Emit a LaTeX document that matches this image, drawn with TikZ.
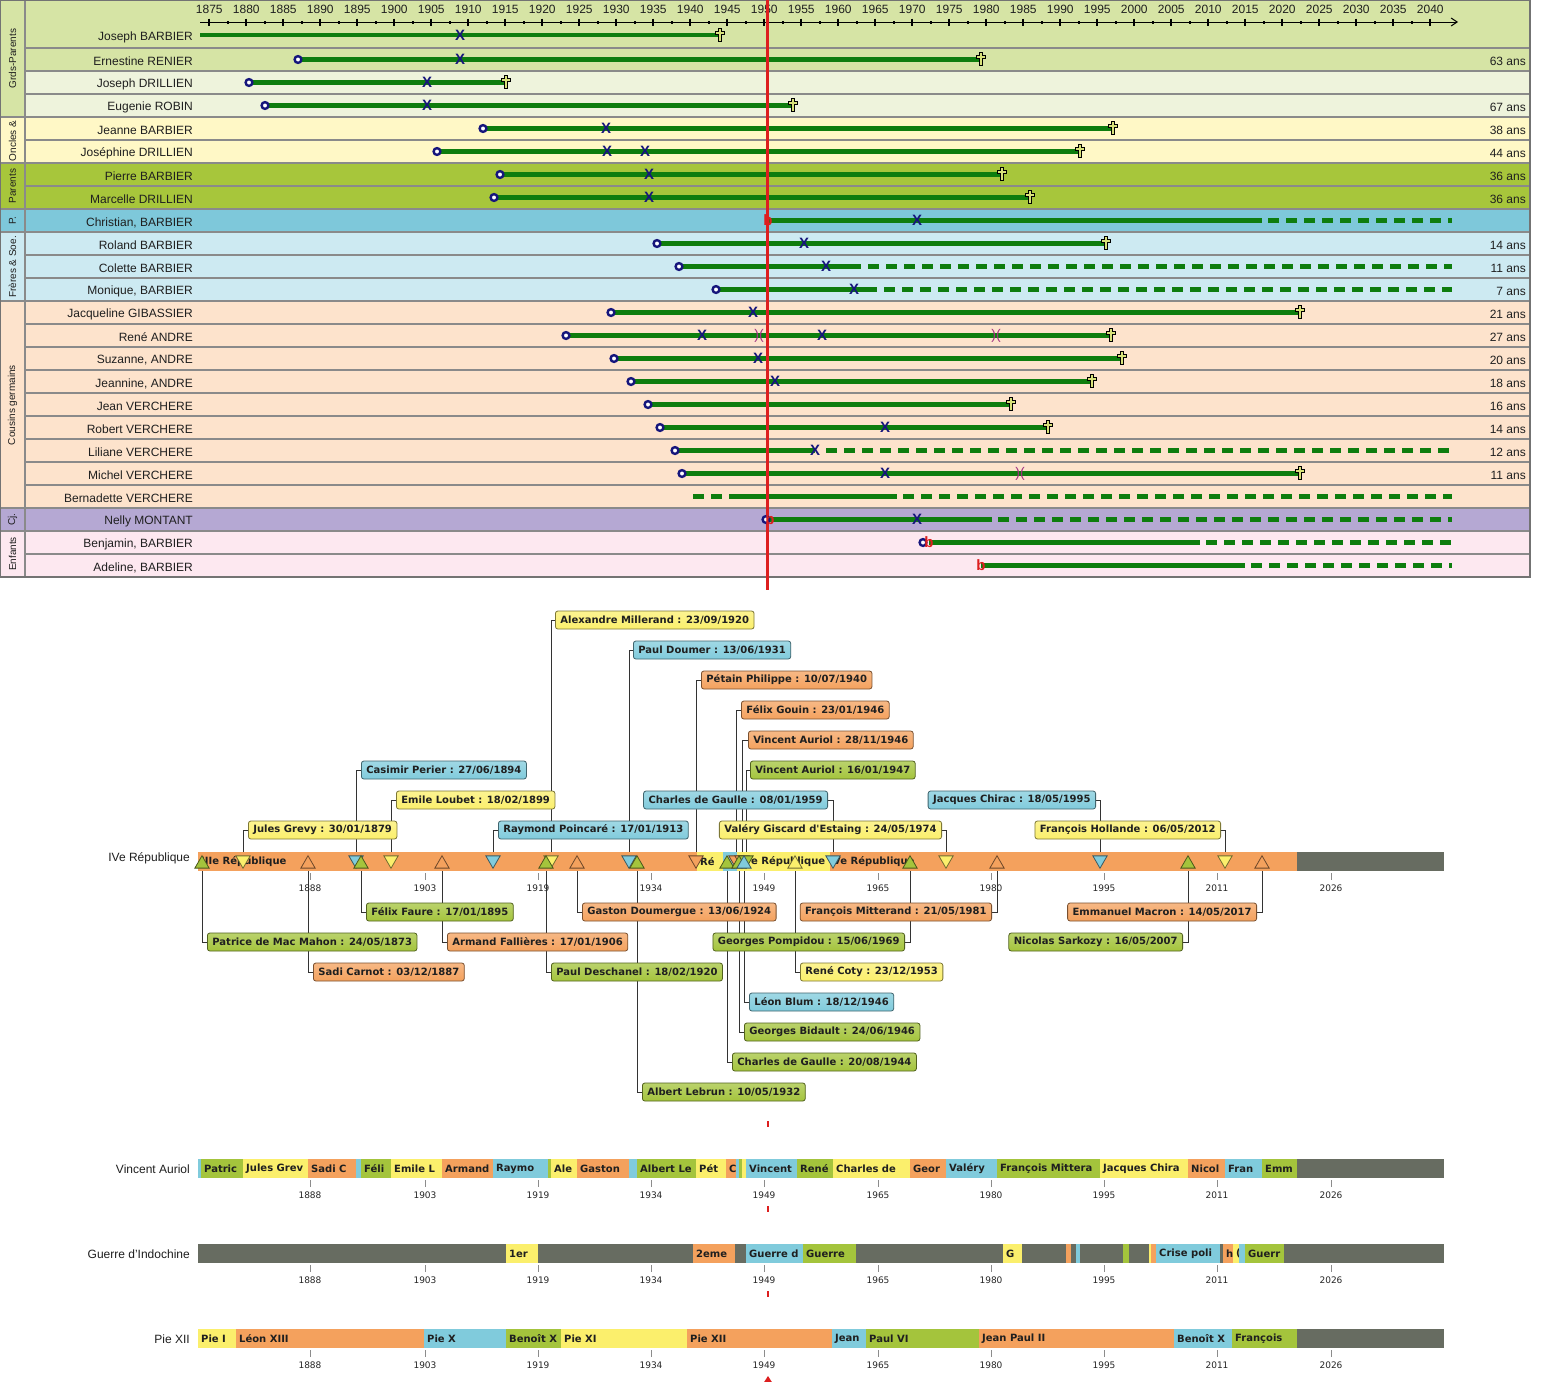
\documentclass[tikz,border=0pt]{standalone}
\usepackage{fontspec}
\setmainfont{Liberation Sans}
\newfontfamily\boxfont{DejaVu Sans}
\usetikzlibrary{shapes.geometric,arrows.meta}
\pgfdeclarelayer{back}
\pgfsetlayers{back,main}
\definecolor{rowGP}{HTML}{D6E4A5}
\definecolor{rowGPb}{HTML}{EEF3DC}
\definecolor{rowOU}{HTML}{FFF8C6}
\definecolor{rowPA}{HTML}{A7C63B}
\definecolor{rowP}{HTML}{7EC8DA}
\definecolor{rowFS}{HTML}{CDEAF2}
\definecolor{rowCG}{HTML}{FDE3CC}
\definecolor{rowCJ}{HTML}{B5A8D3}
\definecolor{rowEN}{HTML}{FDE8F0}
\definecolor{sepgray}{HTML}{8A8A8A}
\definecolor{lifegreen}{HTML}{0E7D0E}
\definecolor{mknavy}{HTML}{16167C}
\definecolor{redline}{HTML}{DD1F1F}
\definecolor{cgreen}{HTML}{A4C43C}
\definecolor{cyellow}{HTML}{FBEF6C}
\definecolor{corange}{HTML}{F4A15D}
\definecolor{cblue}{HTML}{80CBDC}
\definecolor{cgray}{HTML}{676C61}
\definecolor{divpurple}{HTML}{A0307F}
\definecolor{crossfill}{HTML}{D8E27A}
\newcounter{mk}
\tikzset{
  sepln/.style={draw=sepgray, line width=2pt},
  borderln/.style={draw=black!55, line width=1.2pt},
  life/.style={draw=lifegreen, line width=4.3pt},
  lifedash/.style={draw=lifegreen, line width=4.3pt, dash pattern=on 11pt off 7pt},
  bornmk/.style={draw=mknavy, line width=2.4pt, fill=white},
  wedmk/.style={text=mknavy, inner sep=0pt, font=\fontsize{15}{15}\selectfont\bfseries},
  sepmk/.style={text=divpurple, inner sep=0pt, font=\fontsize{14}{14}\selectfont},
  rbmk/.style={text=redline, inner sep=0pt, font=\fontsize{15}{15}\selectfont\bfseries},
  diesmk/.style={draw=black, fill=crossfill, line width=0.9pt},
  namelbl/.style={anchor=east, inner sep=0pt, font=\fontsize{12}{14}\selectfont, text=black!88},
  anslbl/.style={anchor=east, inner sep=0pt, font=\fontsize{12}{14}\selectfont, text=black!88},
  grplbl/.style={rotate=90, inner sep=0pt, font=\fontsize{10}{12}\selectfont, text=black!88},
  yrlbl/.style={inner sep=0pt, font=\fontsize{12}{14}\selectfont, text=black!88},
  yrsmall/.style={inner sep=0pt, font=\boxfont\fontsize{9}{11}\selectfont, text=black!85},
  tickgray/.style={draw=black!45, line width=0.8pt},
  bandlbl/.style={anchor=east, inner sep=0pt, font=\fontsize{12}{14}\selectfont, text=black!88},
  segtxt/.style={anchor=west, inner sep=0pt, font=\boxfont\bfseries\fontsize{10}{12}\selectfont, text=black!88},
  pbox/.style={rounded corners=2.5pt, draw=#1!50!black, top color=#1!75!white, bottom color=#1, line width=0.8pt,
    minimum height=18pt, inner xsep=5pt, inner ysep=0pt,
    font=\boxfont\bfseries\fontsize{10}{12}\selectfont, text=black!88},
  tridown/.style={regular polygon, regular polygon sides=3, shape border rotate=180,
    minimum size=16.5pt, inner sep=0pt, draw=#1!45!black, fill=#1, line width=0.8pt},
  triup/.style={regular polygon, regular polygon sides=3,
    minimum size=16.5pt, inner sep=0pt, draw=#1!45!black, fill=#1, line width=0.8pt},
  conn/.style={draw=black!80, line width=0.8pt},
}
\newcommand\mkLife[3]{\draw[life] (#1,#3) -- (#2,#3);}
\newcommand\mkLifeD[3]{\draw[lifedash] (#1,#3) -- (#2,#3);}
\newcommand\mkBorn[2]{\draw[bornmk] (#1,#2) circle[radius=3.4];}
\newcommand\mkWed[2]{\stepcounter{mk}\node[wedmk] (mk\arabic{mk}) at (#1,#2) {X};}
\newcommand\mkSep[2]{\stepcounter{mk}\node[sepmk] (mk\arabic{mk}) at (#1,#2) {)(};}
\newcommand\mkRb[2]{\stepcounter{mk}\node[rbmk] (mk\arabic{mk}) at (#1,#2) {b};}
\newcommand\mkDie[2]{\draw[diesmk,shift={(#1,#2)}] (-1.6,-7) -- (1.6,-7) -- (1.6,-3.8) -- (4.8,-3.8) -- (4.8,-0.6) -- (1.6,-0.6) -- (1.6,6.2) -- (-1.6,6.2) -- (-1.6,-0.6) -- (-4.8,-0.6) -- (-4.8,-3.8) -- (-1.6,-3.8) -- cycle;}
\newcommand\segm[6]{%
  \fill[#5] (#2,#4) rectangle (#3,#4+19);
  \begin{scope}
    \clip (#2,#4) rectangle (#3,#4+19);
    \node[segtxt] (#1) at (#2+3,#4+9.5) {#6};
  \end{scope}}
\newcommand\bandaxis[2]{%
  \foreach \xx/\yy in {310/1888,425/1903,538/1919,651/1934,764/1949,878/1965,991/1980,1104/1995,1217/2011,1331/2026} {
    \draw[tickgray] (\xx,#2+2) -- (\xx,#2+9);
    \node[yrsmall] (#1-\yy) at (\xx,#2+17) {\yy};}}
\begin{document}
\begin{tikzpicture}[x=1pt,y=-1pt]
\useasboundingbox (0,0) rectangle (1543,1382);
\begin{pgfonlayer}{back}
\fill[white] (0,0) rectangle (1543,1382);
\end{pgfonlayer}
% ================= TOP SECTION =================
\fill[rowGP] (0,0) rectangle (1530,117);
\fill[rowGPb] (25,71) rectangle (1530,117);
\fill[rowOU] (0,117) rectangle (1530,163);
\fill[rowPA] (0,163) rectangle (1530,209);
\fill[rowP] (0,209) rectangle (1530,232);
\fill[rowFS] (0,232) rectangle (1530,301);
\fill[rowCG] (0,301) rectangle (1530,508);
\fill[rowCJ] (0,508) rectangle (1530,531);
\fill[rowEN] (0,531) rectangle (1530,577);
\foreach \yy in {48,71,94,140,186,255,278,324,347,370,393,416,439,462,485,554}
  \draw[sepln] (25,\yy) -- (1530,\yy);
\foreach \yy in {117,163,209,232,301,508,531}
  \draw[sepln] (0,\yy) -- (1530,\yy);
\draw[sepln] (25,0) -- (25,577);
\draw[borderln] (0,0) rectangle (1530,577);
% group labels
\node[grplbl] (g1) at (12.5,58.5) {Grds-Parents};
\node[grplbl] (g2) at (12.5,141) {Oncles \&};
\node[grplbl] (g3) at (12.5,186) {Parents};
\node[grplbl] (g4) at (12.5,220.5) {P.};
\node[grplbl] (g5) at (12.5,267) {Frères \& Soe.};
\node[grplbl] (g6) at (12.5,405) {Cousins germains};
\node[grplbl] (g7) at (12.5,519.5) {Cj.};
\node[grplbl] (g8) at (12.5,554) {Enfants};
% axis
\draw[line width=1pt, -{Straight Barb[length=6pt,width=8pt]}] (200,22) -- (1458,22);
\foreach \k in {0,...,33} {
  \pgfmathsetmacro\xx{209.3+37*\k}
  \pgfmathtruncatemacro\yy{1875+5*\k}
  \draw[line width=2pt] (\xx,18.5) -- (\xx,25.5);
  \node[yrlbl] (ax\k) at (\xx,9.5) {\yy};}
\foreach \k in {0,...,32} {
  \pgfmathsetmacro\xx{209.3+37*\k+18.5}
  \fill (\xx-1.2,20.8) rectangle (\xx+1.2,23.6);}
% names
\node[namelbl] (nm1) at (193,37) {Joseph BARBIER};
\node[namelbl] (nm2) at (193,61.5) {Ernestine RENIER};
\node[namelbl] (nm3) at (193,84.5) {Joseph DRILLIEN};
\node[namelbl] (nm4) at (193,107.5) {Eugenie ROBIN};
\node[namelbl] (nm5) at (193,130.5) {Jeanne BARBIER};
\node[namelbl] (nm6) at (193,153.5) {Joséphine DRILLIEN};
\node[namelbl] (nm7) at (193,176.5) {Pierre BARBIER};
\node[namelbl] (nm8) at (193,199.5) {Marcelle DRILLIEN};
\node[namelbl] (nm9) at (193,222.5) {Christian, BARBIER};
\node[namelbl] (nm10) at (193,245.5) {Roland BARBIER};
\node[namelbl] (nm11) at (193,268.5) {Colette BARBIER};
\node[namelbl] (nm12) at (193,291.5) {Monique, BARBIER};
\node[namelbl] (nm13) at (193,314.5) {Jacqueline GIBASSIER};
\node[namelbl] (nm14) at (193,337.5) {René ANDRE};
\node[namelbl] (nm15) at (193,360.5) {Suzanne, ANDRE};
\node[namelbl] (nm16) at (193,383.5) {Jeannine, ANDRE};
\node[namelbl] (nm17) at (193,406.5) {Jean VERCHERE};
\node[namelbl] (nm18) at (193,429.5) {Robert VERCHERE};
\node[namelbl] (nm19) at (193,452.5) {Liliane VERCHERE};
\node[namelbl] (nm20) at (193,475.5) {Michel VERCHERE};
\node[namelbl] (nm21) at (193,498.5) {Bernadette VERCHERE};
\node[namelbl] (nm22) at (193,521.5) {Nelly MONTANT};
\node[namelbl] (nm23) at (193,544.5) {Benjamin, BARBIER};
\node[namelbl] (nm24) at (193,567.5) {Adeline, BARBIER};
% ages
\node[anslbl] (an2) at (1526,61.5) {63 ans};
\node[anslbl] (an4) at (1526,107.5) {67 ans};
\node[anslbl] (an5) at (1526,130.5) {38 ans};
\node[anslbl] (an6) at (1526,153.5) {44 ans};
\node[anslbl] (an7) at (1526,176.5) {36 ans};
\node[anslbl] (an8) at (1526,199.5) {36 ans};
\node[anslbl] (an10) at (1526,245.5) {14 ans};
\node[anslbl] (an11) at (1526,268.5) {11 ans};
\node[anslbl] (an12) at (1526,291.5) {7 ans};
\node[anslbl] (an13) at (1526,314.5) {21 ans};
\node[anslbl] (an14) at (1526,337.5) {27 ans};
\node[anslbl] (an15) at (1526,360.5) {20 ans};
\node[anslbl] (an16) at (1526,383.5) {18 ans};
\node[anslbl] (an17) at (1526,406.5) {16 ans};
\node[anslbl] (an18) at (1526,429.5) {14 ans};
\node[anslbl] (an19) at (1526,452.5) {12 ans};
\node[anslbl] (an20) at (1526,475.5) {11 ans};
% life lines
\mkLife{200}{720}{35}
\mkLife{298}{981}{59.5}
\mkLife{249}{506}{82.5}
\mkLife{265}{793}{105.5}
\mkLife{483}{1113}{128.5}
\mkLife{437}{1080}{151.5}
\mkLife{500}{1002}{174.5}
\mkLife{494}{1030}{197.5}
\mkLife{768}{1262}{220.5}\mkLifeD{1268}{1452}{220.5}
\mkLife{657}{1106}{243.5}
\mkLife{679}{861}{266.5}\mkLifeD{868}{1452}{266.5}
\mkLife{716}{877}{289.5}\mkLifeD{884}{1452}{289.5}
\mkLife{611}{1300}{312.5}
\mkLife{566}{1111}{335.5}
\mkLife{614}{1122}{358.5}
\mkLife{631}{1092}{381.5}
\mkLife{648}{1011}{404.5}
\mkLife{660}{1048}{427.5}
\mkLife{675}{815}{450.5}\mkLifeD{826}{1452}{450.5}
\mkLife{682}{1300}{473.5}
\mkLifeD{693}{725}{496.5}\mkLife{729}{897}{496.5}\mkLifeD{903}{1452}{496.5}
\mkLife{768}{992}{519.5}\mkLifeD{998}{1452}{519.5}
\mkLife{929}{1200}{542.5}\mkLifeD{1206}{1452}{542.5}
\mkLife{981}{1245}{565.5}\mkLifeD{1251}{1452}{565.5}
% red current line
\draw[redline, line width=2.2pt] (767.5,0) -- (767.5,590);
% markers
\mkWed{460}{35}\mkDie{720}{35}
\mkBorn{298}{59.5}\mkWed{460}{59.5}\mkDie{981}{59.5}
\mkBorn{249}{82.5}\mkWed{427}{82.5}\mkDie{506}{82.5}
\mkBorn{265}{105.5}\mkWed{427}{105.5}\mkDie{793}{105.5}
\mkBorn{483}{128.5}\mkWed{606}{128.5}\mkDie{1113}{128.5}
\mkBorn{437}{151.5}\mkWed{607}{151.5}\mkWed{645}{151.5}\mkDie{1080}{151.5}
\mkBorn{500}{174.5}\mkWed{649}{174.5}\mkDie{1002}{174.5}
\mkBorn{494}{197.5}\mkWed{649}{197.5}\mkDie{1030}{197.5}
\mkRb{768}{220.5}\mkWed{917}{220.5}
\mkBorn{657}{243.5}\mkWed{804}{243.5}\mkDie{1106}{243.5}
\mkBorn{679}{266.5}\mkWed{826}{266.5}
\mkBorn{716}{289.5}\mkWed{854}{289.5}
\mkBorn{611}{312.5}\mkWed{753}{312.5}\mkDie{1300}{312.5}
\mkBorn{566}{335.5}\mkWed{702}{335.5}\mkSep{759}{335.5}\mkWed{822}{335.5}\mkSep{996}{335.5}\mkDie{1111}{335.5}
\mkBorn{614}{358.5}\mkWed{758}{358.5}\mkDie{1122}{358.5}
\mkBorn{631}{381.5}\mkWed{775}{381.5}\mkDie{1092}{381.5}
\mkBorn{648}{404.5}\mkDie{1011}{404.5}
\mkBorn{660}{427.5}\mkWed{885}{427.5}\mkDie{1048}{427.5}
\mkBorn{675}{450.5}\mkWed{815}{450.5}
\mkBorn{682}{473.5}\mkWed{885}{473.5}\mkSep{1020}{473.5}\mkDie{1300}{473.5}
\mkBorn{766}{519.5}\mkRb{770}{519.5}\mkWed{917}{519.5}
\mkBorn{923}{542.5}\mkRb{929}{542.5}
\mkRb{981}{565.5}
% ================= LOWER SECTION =================
% band 1
\segm{s1a}{198}{697}{852}{corange}{IIIe République}
\segm{s1b}{697}{723}{852}{cyellow}{Ré}
\segm{s1c}{723}{737}{852}{cblue}{}
\segm{s1d}{737}{830}{852}{cyellow}{IVe République}
\segm{s1e}{830}{1297}{852}{corange}{Ve République}
\segm{s1f}{1297}{1444}{852}{cgray}{}
\node[bandlbl] (bl1) at (190,858) {IVe République};
\bandaxis{ya}{871}
% triangles (down: label above, up: label below)
\node[tridown=cyellow] (tA11) at (243,860) {};
\node[tridown=cblue] (tA7) at (356,860) {};
\node[tridown=cyellow] (tA8) at (391,860) {};
\node[tridown=cblue] (tA12) at (493,860) {};
\node[tridown=cyellow] (tA1) at (551,860) {};
\node[tridown=cblue] (tA2) at (629,860) {};
\node[tridown=corange] (tA3) at (696,860) {};
\node[tridown=corange] (tA4) at (736,860) {};
\node[tridown=corange] (tA5) at (742,860) {};
\node[tridown=cgreen] (tA6) at (746,860) {};
\node[tridown=cblue] (tA9) at (833,860) {};
\node[tridown=cyellow] (tA13) at (946,860) {};
\node[tridown=cblue] (tA10) at (1100,860) {};
\node[tridown=cyellow] (tA14) at (1225,860) {};
\node[triup=cgreen] (tB5) at (202,864) {};
\node[triup=corange] (tB9) at (308,864) {};
\node[triup=cgreen] (tB1) at (361,864) {};
\node[triup=corange] (tB6) at (442,864) {};
\node[triup=cgreen] (tB10) at (546,864) {};
\node[triup=corange] (tB2) at (577,864) {};
\node[triup=cgreen] (tB15) at (637,864) {};
\node[triup=cgreen] (tB14) at (727,864) {};
\node[triup=cgreen] (tB13) at (739,864) {};
\node[triup=cblue] (tB12) at (744,864) {};
\node[triup=cyellow] (tB11) at (795,864) {};
\node[triup=cgreen] (tB7) at (910,864) {};
\node[triup=corange] (tB3) at (997,864) {};
\node[triup=cgreen] (tB8) at (1188,864) {};
\node[triup=corange] (tB4) at (1262,864) {};
% boxes above
\node[pbox=cyellow, anchor=west] (A1) at (555,620) {Alexandre Millerand : 23/09/1920};
\node[pbox=cblue, anchor=west] (A2) at (633,650) {Paul Doumer : 13/06/1931};
\node[pbox=corange, anchor=west] (A3) at (701,680) {Pétain Philippe : 10/07/1940};
\node[pbox=corange, anchor=west] (A4) at (741,710) {Félix Gouin : 23/01/1946};
\node[pbox=corange, anchor=west] (A5) at (748,740) {Vincent Auriol : 28/11/1946};
\node[pbox=cgreen, anchor=west] (A6) at (750,770) {Vincent Auriol : 16/01/1947};
\node[pbox=cblue, anchor=west] (A7) at (361,770) {Casimir Perier : 27/06/1894};
\node[pbox=cyellow, anchor=west] (A8) at (396,800) {Emile Loubet : 18/02/1899};
\node[pbox=cblue, anchor=east] (A9) at (828,800) {Charles de Gaulle : 08/01/1959};
\node[pbox=cblue, anchor=east] (A10) at (1096,800) {Jacques Chirac : 18/05/1995};
\node[pbox=cyellow, anchor=west] (A11) at (248,830) {Jules Grevy : 30/01/1879};
\node[pbox=cblue, anchor=west] (A12) at (498,830) {Raymond Poincaré : 17/01/1913};
\node[pbox=cyellow, anchor=east] (A13) at (942,830) {Valéry Giscard d'Estaing : 24/05/1974};
\node[pbox=cyellow, anchor=east] (A14) at (1221,830) {François Hollande : 06/05/2012};
% boxes below
\node[pbox=cgreen, anchor=west] (B1) at (366,912) {Félix Faure : 17/01/1895};
\node[pbox=corange, anchor=west] (B2) at (582,912) {Gaston Doumergue : 13/06/1924};
\node[pbox=corange, anchor=east] (B3) at (992,912) {François Mitterand : 21/05/1981};
\node[pbox=corange, anchor=east] (B4) at (1257,912) {Emmanuel Macron : 14/05/2017};
\node[pbox=cgreen, anchor=west] (B5) at (207,942) {Patrice de Mac Mahon : 24/05/1873};
\node[pbox=corange, anchor=west] (B6) at (447,942) {Armand Fallières : 17/01/1906};
\node[pbox=cgreen, anchor=east] (B7) at (905,942) {Georges Pompidou : 15/06/1969};
\node[pbox=cgreen, anchor=east] (B8) at (1183,942) {Nicolas Sarkozy : 16/05/2007};
\node[pbox=corange, anchor=west] (B9) at (313,972) {Sadi Carnot : 03/12/1887};
\node[pbox=cgreen, anchor=west] (B10) at (551,972) {Paul Deschanel : 18/02/1920};
\node[pbox=cyellow, anchor=west] (B11) at (800,972) {René Coty : 23/12/1953};
\node[pbox=cblue, anchor=west] (B12) at (749,1002) {Léon Blum : 18/12/1946};
\node[pbox=cgreen, anchor=west] (B13) at (744,1032) {Georges Bidault : 24/06/1946};
\node[pbox=cgreen, anchor=west] (B14) at (732,1062) {Charles de Gaulle : 20/08/1944};
\node[pbox=cgreen, anchor=west] (B15) at (642,1092) {Albert Lebrun : 10/05/1932};
% connectors (behind)
\begin{pgfonlayer}{back}
\foreach \n in {1,2,3,4,5,6,7,8,11,12}
  \draw[conn] (A\n.west) -| (tA\n.north);
\foreach \n in {9,10,13,14}
  \draw[conn] (A\n.east) -| (tA\n.north);
\foreach \n in {1,2,5,6,9,10,11,12,13,14,15}
  \draw[conn] (tB\n.south) |- (B\n.west);
\foreach \n in {3,4,7,8}
  \draw[conn] (tB\n.south) |- (B\n.east);
\end{pgfonlayer}
\fill[redline] (766.5,1121) rectangle (769,1127);
% band 2
\segm{s2a}{198}{201}{1159}{cblue}{}
\segm{s2b}{201}{243}{1159}{cgreen}{Patric}
\segm{s2c}{243}{308}{1159}{cyellow}{Jules Grev}
\segm{s2d}{308}{356}{1159}{corange}{Sadi C}
\segm{s2e}{356}{361}{1159}{cblue}{}
\segm{s2f}{361}{391}{1159}{cgreen}{Féli}
\segm{s2g}{391}{442}{1159}{cyellow}{Emile L}
\segm{s2h}{442}{493}{1159}{corange}{Armand}
\segm{s2i}{493}{548}{1159}{cblue}{Raymo}
\segm{s2j}{548}{551}{1159}{cgreen}{}
\segm{s2k}{551}{577}{1159}{cyellow}{Ale}
\segm{s2l}{577}{629}{1159}{corange}{Gaston}
\segm{s2m}{629}{637}{1159}{cblue}{}
\segm{s2n}{637}{696}{1159}{cgreen}{Albert Le}
\segm{s2o}{696}{726}{1159}{cyellow}{Pét}
\segm{s2p}{726}{736}{1159}{corange}{C}
\segm{s2q}{736}{739}{1159}{cblue}{}
\segm{s2r}{739}{742}{1159}{cgreen}{}
\segm{s2s}{742}{746}{1159}{cyellow}{}
\segm{s2t}{746}{797}{1159}{cblue}{Vincent}
\segm{s2u}{797}{833}{1159}{cgreen}{René}
\segm{s2v}{833}{910}{1159}{cyellow}{Charles de}
\segm{s2w}{910}{946}{1159}{corange}{Geor}
\segm{s2x}{946}{997}{1159}{cblue}{Valéry}
\segm{s2y}{997}{1100}{1159}{cgreen}{François Mittera}
\segm{s2z}{1100}{1188}{1159}{cyellow}{Jacques Chira}
\segm{s2aa}{1188}{1225}{1159}{corange}{Nicol}
\segm{s2ab}{1225}{1262}{1159}{cblue}{Fran}
\segm{s2ac}{1262}{1297}{1159}{cgreen}{Emm}
\segm{s2ad}{1297}{1444}{1159}{cgray}{}
\node[bandlbl] (bl2) at (190,1169) {Vincent Auriol};
\bandaxis{yb}{1178}
\fill[redline] (766.5,1206) rectangle (769,1212);
% band 3
\fill[cgray] (198,1244) rectangle (1444,1263);
\segm{s3a}{506}{538}{1244}{cyellow}{1er}
\segm{s3b}{693}{735}{1244}{corange}{2eme}
\segm{s3c}{746}{803}{1244}{cblue}{Guerre d}
\segm{s3d}{803}{856}{1244}{cgreen}{Guerre}
\segm{s3e}{1003}{1022}{1244}{cyellow}{G}
\segm{s3f}{1066}{1071}{1244}{corange}{}
\segm{s3g}{1076}{1080}{1244}{cblue}{}
\segm{s3h}{1123}{1129}{1244}{cgreen}{}
\segm{s3i}{1149}{1151}{1244}{cyellow}{}
\segm{s3j}{1151}{1156}{1244}{corange}{}
\segm{s3k}{1156}{1220}{1244}{cblue}{Crise poli}
\segm{s3l}{1223}{1233}{1244}{corange}{h}
\segm{s3m}{1233}{1239}{1244}{cyellow}{(}
\segm{s3n}{1239}{1245}{1244}{cblue}{}
\segm{s3o}{1245}{1284}{1244}{cgreen}{Guerr}
\node[bandlbl] (bl3) at (190,1254) {Guerre d'Indochine};
\bandaxis{yc}{1263}
\fill[redline] (766.5,1291) rectangle (769,1297);
% band 4
\segm{s4a}{198}{236}{1329}{cyellow}{Pie I}
\segm{s4b}{236}{424}{1329}{corange}{Léon XIII}
\segm{s4c}{424}{506}{1329}{cblue}{Pie X}
\segm{s4d}{506}{561}{1329}{cgreen}{Benoît X}
\segm{s4e}{561}{687}{1329}{cyellow}{Pie XI}
\segm{s4f}{687}{832}{1329}{corange}{Pie XII}
\segm{s4g}{832}{866}{1329}{cblue}{Jean}
\segm{s4h}{866}{979}{1329}{cgreen}{Paul VI}
\segm{s4i}{979}{1174}{1329}{corange}{Jean Paul II}
\segm{s4j}{1174}{1232}{1329}{cblue}{Benoît X}
\segm{s4k}{1232}{1297}{1329}{cgreen}{François}
\segm{s4l}{1297}{1444}{1329}{cgray}{}
\node[bandlbl] (bl4) at (190,1339) {Pie XII};
\bandaxis{yd}{1348}
\fill[redline] (768,1376) -- (772.5,1383) -- (763.5,1383) -- cycle;
\end{tikzpicture}
\end{document}
